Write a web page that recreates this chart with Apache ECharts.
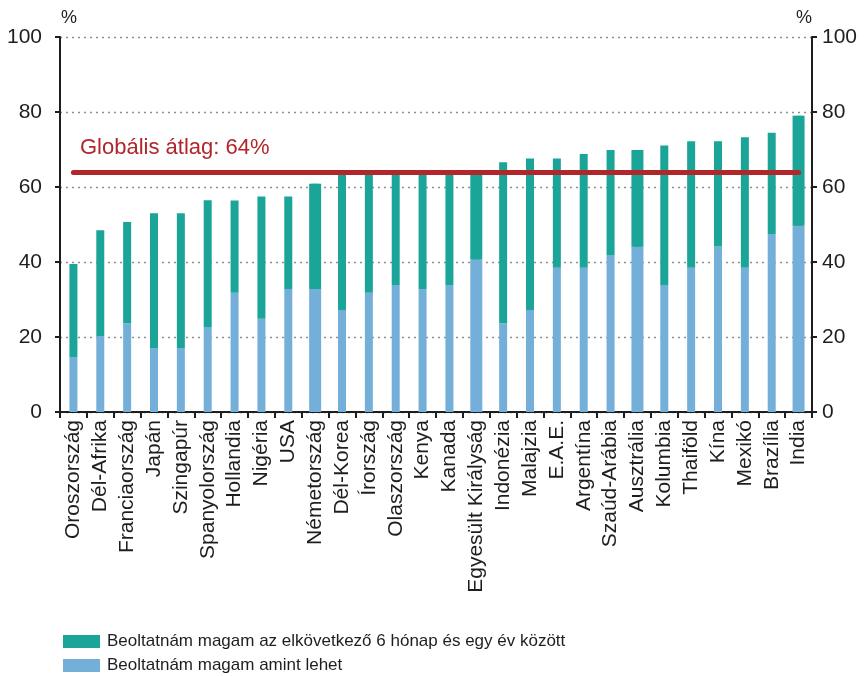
<!DOCTYPE html>
<html>
<head>
<meta charset="utf-8">
<script src="https://cdn.jsdelivr.net/npm/echarts@6/dist/echarts.min.js"></script>
<style>
  html, body { margin: 0; padding: 0; background: #fff; }
  #chart { width: 865px; height: 676px; }
</style>
</head>
<body>
<div id="chart"></div>
<script>
// Countries, sorted by overall willingness to get vaccinated
const categories = [
  'Oroszország', 'Dél-Afrika', 'Franciaország', 'Japán', 'Szingapúr',
  'Spanyolország', 'Hollandia', 'Nigéria', 'USA', 'Németország',
  'Dél-Korea', 'Írország', 'Olaszország', 'Kenya', 'Kanada',
  'Egyesült Királyság', 'Indonézia', 'Malajzia', 'E.A.E.', 'Argentína',
  'Szaúd-Arábia', 'Ausztrália', 'Kolumbia', 'Thaiföld', 'Kína',
  'Mexikó', 'Brazília', 'India'
];

// "Beoltatnám magam amint lehet" (%)
const asSoonAsPossible = [
  14.7, 20.3, 23.7, 17.1, 17.1,
  22.7, 31.8, 24.9, 32.8, 32.8,
  27.2, 31.8, 33.9, 32.8, 33.9,
  40.7, 23.7, 27.2, 38.5, 38.5,
  41.9, 44.1, 33.9, 38.5, 44.1,
  38.5, 47.5, 49.7
];

// "Beoltatnám magam az elkövetkező 6 hónap és egy év között" (%)
const withinSixToTwelveMonths = [
  24.8, 28.2, 27.0, 35.9, 35.9,
  33.8, 24.6, 32.6, 24.7, 28.1,
  37.1, 32.5, 30.4, 31.5, 30.4,
  23.6, 42.9, 40.4, 29.1, 30.3,
  28.0, 25.8, 37.2, 33.7, 28.1,
  34.8, 27.0, 29.3
];

const globalAverage = 64;
const yTicks = [0, 20, 40, 60, 80, 100];

const seriesNames = [
  'Beoltatnám magam az elkövetkező 6 hónap és egy év között',
  'Beoltatnám magam amint lehet'
];

// Countries drawn with a wider bar
const wideBarCountries = ['Németország', 'Egyesült Királyság', 'Ausztrália', 'India'];

const TEAL = '#1ba598';
const BLUE = '#74afda';
const RED = '#b1262b';
const INK = '#1e1e1e';
const FONT = '"Liberation Sans", Arial, sans-serif';

const onlyWide = arr => arr.map((v, i) => wideBarCountries.includes(categories[i]) ? v : '-');

const chart = echarts.init(document.getElementById('chart'), null, { renderer: 'canvas' });

const yAxisBase = {
  type: 'value',
  min: yTicks[0],
  max: yTicks[yTicks.length - 1],
  interval: yTicks[1] - yTicks[0],
  name: '%',
  nameLocation: 'end',
  nameGap: 10,
  axisLine: { show: true, lineStyle: { color: INK, width: 2 } },
  axisTick: { show: true, length: 5, lineStyle: { color: INK, width: 2 } },
  axisLabel: { color: INK, fontSize: 21, fontFamily: FONT }
};

// One legend block per row, stacked vertically
const legendRow = (name, top) => ({
  left: 58,
  top: top,
  icon: 'rect',
  itemWidth: 37,
  itemHeight: 13,
  data: [name],
  textStyle: { color: INK, fontSize: 17, fontFamily: FONT, padding: [0, 0, 0, 2] },
  selectedMode: false
});

chart.setOption({
  animation: false,
  backgroundColor: '#fff',
  grid: { left: 60, right: 53, top: 37, bottom: 264, containLabel: false },
  xAxis: [
    {
      type: 'category',
      data: categories,
      boundaryGap: true,
      axisLine: { show: true, lineStyle: { color: INK, width: 2 } },
      axisTick: { show: true, length: 6, alignWithLabel: false, lineStyle: { color: INK, width: 2 } },
      axisLabel: {
        interval: 0, rotate: 90, margin: 8,
        color: INK, fontSize: 21, fontFamily: FONT
      },
      splitLine: { show: false }
    },
    {
      type: 'category',
      data: categories,
      show: false,
      gridIndex: 0
    }
  ],
  yAxis: [
    Object.assign({}, yAxisBase, {
      position: 'left',
      nameTextStyle: { color: INK, fontSize: 18, fontFamily: FONT, align: 'left', padding: [0, 0, 0, 1] },
      axisLabel: Object.assign({}, yAxisBase.axisLabel, { margin: 18 }),
      splitLine: { show: true, lineStyle: { color: '#8f8f8f', width: 1.3, type: [2, 4] } }
    }),
    Object.assign({}, yAxisBase, {
      position: 'right',
      nameTextStyle: { color: INK, fontSize: 18, fontFamily: FONT, align: 'right', padding: [0, 0, 0, 0] },
      axisLabel: Object.assign({}, yAxisBase.axisLabel, { margin: 10 }),
      splitLine: { show: false }
    })
  ],
  legend: [
    legendRow(seriesNames[0], 628),
    legendRow(seriesNames[1], 652)
  ],
  series: [
    {
      name: seriesNames[1], type: 'bar', stack: 'narrow', barWidth: 8,
      itemStyle: { color: BLUE }, data: asSoonAsPossible
    },
    {
      name: seriesNames[0], type: 'bar', stack: 'narrow', barWidth: 8,
      itemStyle: { color: TEAL }, data: withinSixToTwelveMonths
    },
    {
      name: seriesNames[1], type: 'bar', stack: 'wide', barWidth: 12, xAxisIndex: 1,
      itemStyle: { color: BLUE }, data: onlyWide(asSoonAsPossible)
    },
    {
      name: seriesNames[0], type: 'bar', stack: 'wide', barWidth: 12, xAxisIndex: 1,
      itemStyle: { color: TEAL }, data: onlyWide(withinSixToTwelveMonths),
      markLine: {
        silent: true,
        symbol: ['none', 'none'],
        label: { show: false },
        z: 10,
        lineStyle: { color: RED, width: 5, type: 'solid', cap: 'round' },
        data: [[
          { coord: [categories[0], globalAverage] },
          { coord: [categories[categories.length - 1], globalAverage] }
        ]]
      }
    }
  ],
  graphic: [
    {
      type: 'text',
      left: 80,
      top: 137,
      style: {
        text: 'Globális átlag: ' + globalAverage + '%',
        fill: RED,
        font: '22px ' + FONT
      }
    }
  ]
});
</script>
</body>
</html>
